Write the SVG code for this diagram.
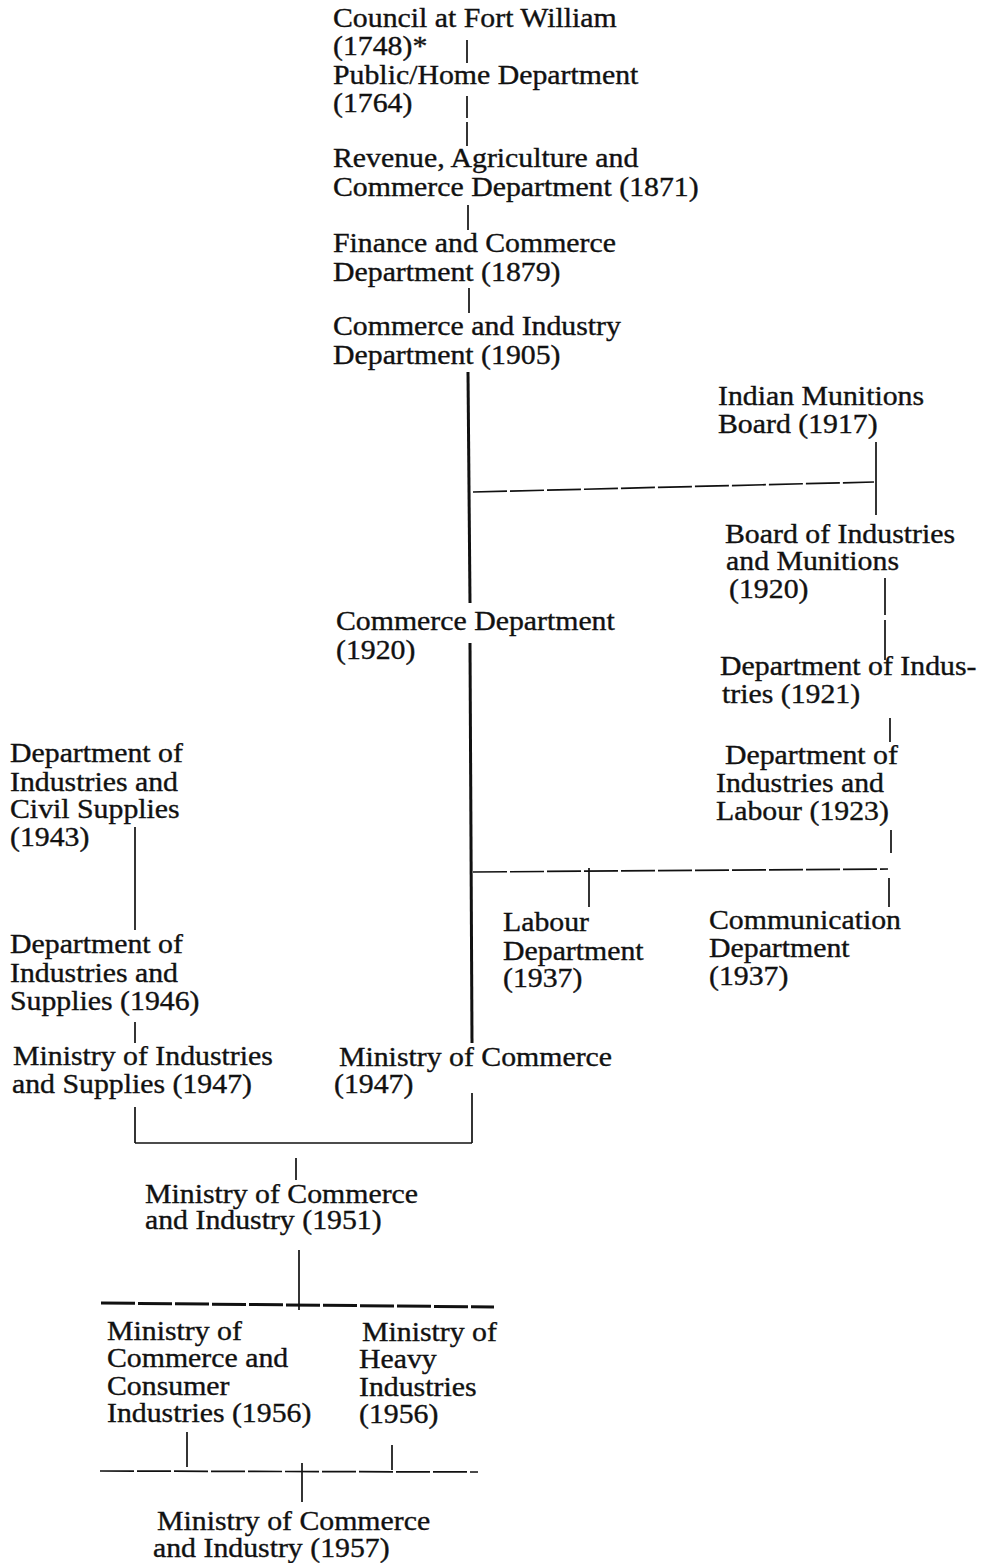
<svg xmlns="http://www.w3.org/2000/svg" width="985" height="1563" viewBox="0 0 985 1563">
<style>
text{font-family:"Liberation Serif","Times New Roman",serif;font-size:26.5px;fill:#111;stroke:#111;stroke-width:0.35}
.c line{stroke:#111;stroke-width:1.7;fill:none}
.c .t{stroke-width:3}
.c .d{stroke-dasharray:34 3}
</style>
<rect width="985" height="1563" fill="#fff"/>
<g id="n1" transform="translate(333,0) scale(1.125,1)"><text x="0" y="27">Council at Fort William</text><text x="0" y="55">(1748)*</text></g>
<g id="n2" transform="translate(333,0) scale(1.125,1)"><text x="0" y="84">Public/Home Department</text><text x="0" y="112">(1764)</text></g>
<g id="n3" transform="translate(333,0) scale(1.125,1)"><text x="0" y="167">Revenue, Agriculture and</text><text x="0" y="196">Commerce Department (1871)</text></g>
<g id="n4" transform="translate(333,0) scale(1.125,1)"><text x="0" y="252">Finance and Commerce</text><text x="0" y="281">Department (1879)</text></g>
<g id="n5" transform="translate(333,0) scale(1.125,1)"><text x="0" y="335">Commerce and Industry</text><text x="0" y="364">Department (1905)</text></g>
<g id="n6" transform="translate(718,0) scale(1.125,1)"><text x="0" y="405">Indian Munitions</text><text x="0" y="433">Board (1917)</text></g>
<g id="n7" transform="translate(725,0) scale(1.125,1)"><text x="0" y="543">Board of Industries</text><text x="0.9" y="570">and Munitions</text><text x="3.6" y="598">(1920)</text></g>
<g id="n8" transform="translate(336,0) scale(1.125,1)"><text x="0" y="630">Commerce Department</text><text x="0" y="659">(1920)</text></g>
<g id="n9" transform="translate(720,0) scale(1.125,1)"><text x="0" y="675">Department of Indus-</text><text x="1.8" y="703">tries (1921)</text></g>
<g id="n10" transform="translate(716,0) scale(1.125,1)"><text x="8" y="764">Department of</text><text x="0" y="792">Industries and</text><text x="0" y="820">Labour (1923)</text></g>
<g id="n11" transform="translate(10,0) scale(1.125,1)"><text x="0" y="762">Department of</text><text x="0" y="791">Industries and</text><text x="0" y="818">Civil Supplies</text><text x="0" y="846">(1943)</text></g>
<g id="n12" transform="translate(503,0) scale(1.125,1)"><text x="0" y="931">Labour</text><text x="0" y="960">Department</text><text x="0" y="987">(1937)</text></g>
<g id="n13" transform="translate(709,0) scale(1.125,1)"><text x="0" y="929">Communication</text><text x="0" y="957">Department</text><text x="0" y="985">(1937)</text></g>
<g id="n14" transform="translate(10,0) scale(1.125,1)"><text x="0" y="953">Department of</text><text x="0" y="982">Industries and</text><text x="0" y="1010">Supplies (1946)</text></g>
<g id="n15" transform="translate(12,0) scale(1.125,1)"><text x="0.9" y="1065">Ministry of Industries</text><text x="0" y="1093">and Supplies (1947)</text></g>
<g id="n16" transform="translate(334,0) scale(1.125,1)"><text x="4.4" y="1066">Ministry of Commerce</text><text x="0" y="1093">(1947)</text></g>
<g id="n17" transform="translate(145,0) scale(1.125,1)"><text x="0" y="1203">Ministry of Commerce</text><text x="0" y="1229">and Industry (1951)</text></g>
<g id="n18" transform="translate(107,0) scale(1.125,1)"><text x="0" y="1340">Ministry of</text><text x="0" y="1367">Commerce and</text><text x="0" y="1395">Consumer</text><text x="0" y="1422">Industries (1956)</text></g>
<g id="n19" transform="translate(359,0) scale(1.125,1)"><text x="2.7" y="1341">Ministry of</text><text x="0" y="1368">Heavy</text><text x="0" y="1396">Industries</text><text x="0" y="1423">(1956)</text></g>
<g id="n20" transform="translate(153,0) scale(1.125,1)"><text x="3.6" y="1530">Ministry of Commerce</text><text x="0" y="1557">and Industry (1957)</text></g>
<g id="connectors" class="c">
<line x1="467" y1="40" x2="467" y2="63"/>
<line x1="467" y1="96" x2="467" y2="118"/>
<line x1="467" y1="122" x2="467" y2="146"/>
<line x1="468" y1="205" x2="468" y2="230"/>
<line x1="469" y1="288" x2="469" y2="313"/>
<line class="t" x1="468" y1="372" x2="470" y2="603"/>
<line class="d" x1="473" y1="492" x2="874" y2="482"/>
<line x1="876" y1="442" x2="876" y2="515"/>
<line x1="885" y1="578" x2="885" y2="615"/>
<line x1="885" y1="620" x2="885" y2="660"/>
<line x1="890" y1="718" x2="890" y2="742"/>
<line x1="891" y1="830" x2="891" y2="853"/>
<line class="t" x1="470" y1="643" x2="472" y2="1043"/>
<line class="d" x1="473" y1="872" x2="888" y2="869"/>
<line x1="589" y1="868" x2="589" y2="907"/>
<line x1="889" y1="878" x2="889" y2="907"/>
<line x1="135" y1="827" x2="135" y2="930"/>
<line x1="135" y1="1022" x2="135" y2="1043"/>
<line x1="135" y1="1107" x2="135" y2="1143"/>
<line x1="472" y1="1093" x2="472" y2="1143"/>
<line x1="135" y1="1143" x2="472" y2="1143"/>
<line x1="296" y1="1158" x2="296" y2="1180"/>
<line x1="299" y1="1250" x2="299" y2="1310"/>
<line class="t d" x1="101" y1="1303" x2="494" y2="1307"/>
<line x1="187" y1="1432" x2="187" y2="1467"/>
<line x1="392" y1="1445" x2="392" y2="1470"/>
<line class="d" x1="100" y1="1471" x2="478" y2="1472"/>
<line x1="302" y1="1463" x2="302" y2="1502"/>
</g>
</svg>
